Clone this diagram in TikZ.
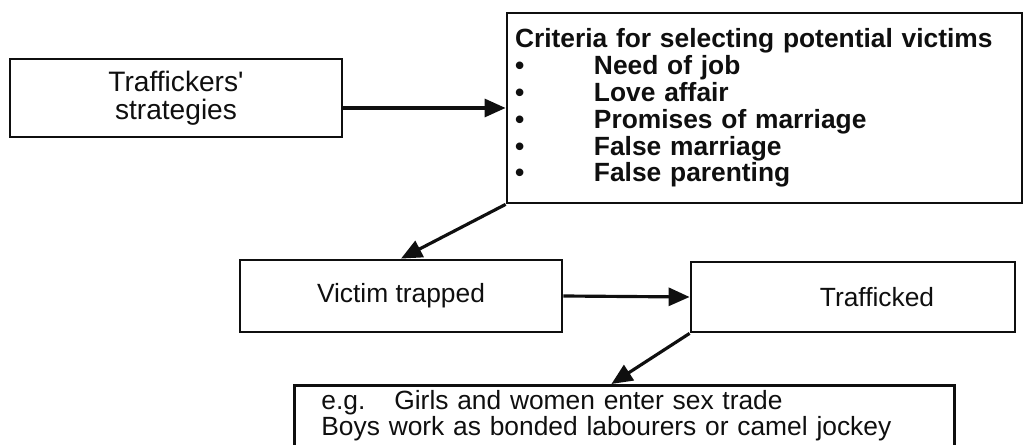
\documentclass[tikz,border=0pt]{standalone}
\usepackage{fontspec}
\setmainfont{Liberation Sans}
\usetikzlibrary{arrows.meta}
\definecolor{ink}{RGB}{15,15,15}
\tikzset{
  >={Triangle[length=4.2mm,width=3.6mm]},
  box/.style={draw=ink,line width=1.6pt,align=center,inner sep=0pt,
    font=\fontsize{15}{16}\selectfont,text=ink},
  flow/.style={->,line width=1.8pt,draw=ink},
}
\begin{document}
\begin{tikzpicture}
  \useasboundingbox (0,0) rectangle (20.66,-8.9);
  \node[box,minimum width=6.64cm,minimum height=1.56cm,font=\fontsize{16}{16}\selectfont] (strat) at (3.52,-1.96)
    {Traffickers\textquotesingle\\strategies};
  \node[box,minimum width=10.3cm,minimum height=3.8cm,align=left,text width=9.98cm,inner xsep=0.16cm,
    font=\fontsize{15}{15.3}\selectfont\bfseries] (crit) at (15.29,-2.16)
    {Criteria for selecting potential victims\\
     \makebox[1.58cm][l]{\textbullet}Need of job\\
     \makebox[1.58cm][l]{\textbullet}Love affair\\
     \makebox[1.58cm][l]{\textbullet}Promises of marriage\\
     \makebox[1.58cm][l]{\textbullet}False marriage\\
     \makebox[1.58cm][l]{\textbullet}False parenting};
  \node[box,minimum width=6.44cm,minimum height=1.44cm] (victim) at (8.02,-5.92) {Victim trapped};
  \node[box,minimum width=6.48cm,minimum height=1.4cm] (traf) at (17.06,-5.94)
    {\hspace*{0.96cm}Trafficked};
  \node[box,anchor=north west,align=left,text width=12.12cm,inner xsep=0.54cm,inner ysep=0.1cm,
    text depth=0.8cm,font=\fontsize{15}{13.3}\selectfont] (ex) at (5.86,-7.68)
    {e.g.\hspace{1.1em}Girls and women enter sex trade\\Boys work as bonded labourers or camel jockey};
  \draw[flow] (strat.east |- crit.west) -- (crit.west);
  \draw[flow] (crit.south west) -- (victim.north);
  \draw[flow] (victim.east) -- (traf.west);
  \draw[flow] (traf.south west) -- ([xshift=-0.26cm]ex.north);
\end{tikzpicture}
\end{document}
